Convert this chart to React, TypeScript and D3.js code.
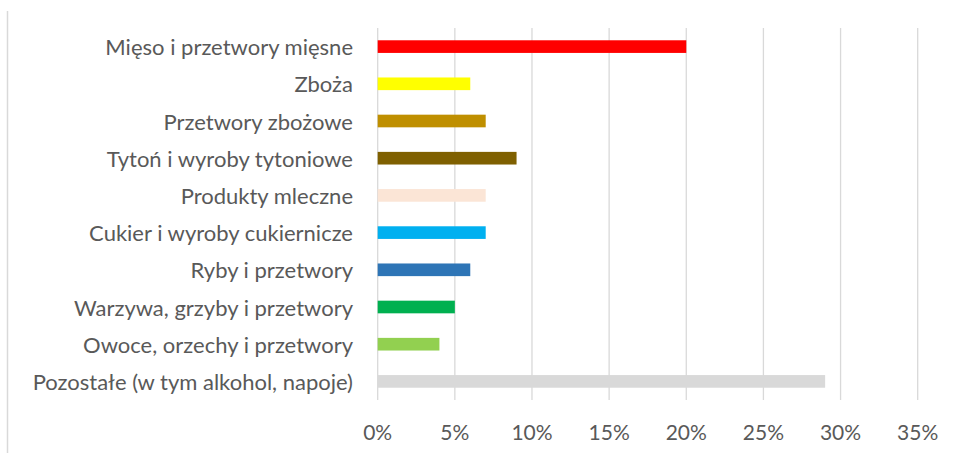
import React from "react";
import * as d3 from "d3";

const categories = [
  "Mięso i przetwory mięsne",
  "Zboża",
  "Przetwory zbożowe",
  "Tytoń i wyroby tytoniowe",
  "Produkty mleczne",
  "Cukier i wyroby cukiernicze",
  "Ryby i przetwory",
  "Warzywa, grzyby i przetwory",
  "Owoce, orzechy i przetwory",
  "Pozostałe (w tym alkohol, napoje)",
];
const values = [20, 6, 7, 9, 7, 7, 6, 5, 4, 29];
const colors = [
  "#FF0000",
  "#FFFF00",
  "#BF8F00",
  "#7F6000",
  "#FBE5D6",
  "#00B0F0",
  "#2E75B6",
  "#00B050",
  "#92D050",
  "#D9D9D9",
];
const ticks = [0, 5, 10, 15, 20, 25, 30, 35];

const W = 955;
const H = 453;
const left = 377.7;
const right = 917.7;
const top = 28;
const bottom = 400;

export default function App() {
  const x = d3.scaleLinear().domain([0, 35]).range([left, right]);
  const y = d3.scaleBand<string>().domain(categories).range([top, bottom]).paddingInner(0.66).paddingOuter(0.33);
  const font = "Lato, 'Open Sans', sans-serif";
  return (
    <svg width={W} height={H} style={{ position: "absolute", left: 0, top: 0, background: "#fff" }}>
      <line x1={7.5} x2={7.5} y1={11} y2={H} stroke="#d9d9d9" strokeWidth={1.5} />
      {ticks.map((t) => (
        <line key={t} x1={x(t)} x2={x(t)} y1={top} y2={bottom} stroke="#d9d9d9" strokeWidth={1.3} />
      ))}
      {categories.map((c, i) => (
        <g key={c}>
          <rect x={x(0)} y={y(c)} width={x(values[i]) - x(0)} height={y.bandwidth()} fill={colors[i]} />
          <text
            x={353}
            y={(y(c) as number) + y.bandwidth() / 2}
            textAnchor="end"
            dominantBaseline="central"
            fontFamily={font}
            fontSize={22}
            fill="#595959"
          >
            {c}
          </text>
        </g>
      ))}
      {ticks.map((t) => (
        <text key={t} x={x(t)} y={431} textAnchor="middle" dominantBaseline="central" fontFamily={font} fontSize={21} fill="#595959">
          {t}%
        </text>
      ))}
    </svg>
  );
}
